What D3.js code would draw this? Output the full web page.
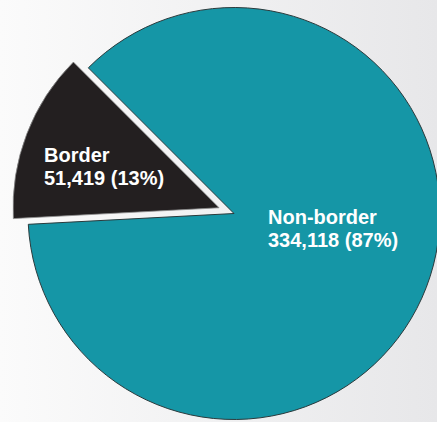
<!DOCTYPE html>
<html>
<head>
<meta charset="utf-8">
<script src="https://cdn.jsdelivr.net/npm/d3@7"></script>
<style>
  html, body { margin: 0; padding: 0; overflow: hidden; }
  svg { display: block; }
</style>
</head>
<body>
<svg id="chart" width="437" height="422"></svg>
<script>
const categories = ["Border", "Non-border"];
const values = [51419, 334118];
const percents = ["13%", "87%"];
const colors = ["#231f20", "#1596a6"];

const W = 437, H = 422;
const cx = 234, cy = 213.5, R = 206;
const explode = [16, 0];

const svg = d3.select("#chart");
const defs = svg.append("defs");
const grad = defs.append("linearGradient").attr("id", "bg").attr("x1", "0").attr("x2", "1").attr("y1", "0").attr("y2", "0");
grad.append("stop").attr("offset", "0").attr("stop-color", "#fbfbfb");
grad.append("stop").attr("offset", "1").attr("stop-color", "#e7e7e9");
svg.append("rect").attr("width", W).attr("height", H).attr("fill", "url(#bg)");

const total = d3.sum(values);
const start = -45 * Math.PI / 180 - (values[0] / total) * 2 * Math.PI;
const pie = d3.pie().sort(null).value(d => d.v)
  .startAngle(start)
  .endAngle(start + 2 * Math.PI);
const data = categories.map((c, i) => ({ c, v: values[i], p: percents[i], i }));
const arcs = pie(data);
const arc = d3.arc().innerRadius(0).outerRadius(R);

const g = svg.append("g").attr("transform", `translate(${cx},${cy})`);

const order = [1, 0];
order.forEach(k => {
  const a = arcs[k];
  const mid = (a.startAngle + a.endAngle) / 2;
  const dx = explode[k] * Math.sin(mid), dy = -explode[k] * Math.cos(mid);
  g.append("path")
    .attr("d", arc(a))
    .attr("transform", `translate(${dx},${dy})`)
    .attr("fill", colors[k])
    .attr("stroke", k === 1 ? "#2a3a3c" : "#8a8a8a")
    .attr("stroke-width", k === 1 ? 1 : 0.8)
    .attr("stroke-linejoin", "miter");
});

const labelPos = [[44, 162], [268, 224]];
const lineGap = 23;
data.forEach((d, k) => {
  const t = svg.append("text")
    .attr("x", labelPos[k][0]).attr("y", labelPos[k][1])
    .attr("fill", "#ffffff")
    .attr("font-family", "'Liberation Sans', Arial, sans-serif")
    .attr("font-weight", "bold")
    .attr("font-size", 20);
  t.append("tspan").attr("x", labelPos[k][0]).text(d.c);
  t.append("tspan").attr("x", labelPos[k][0]).attr("dy", lineGap)
    .text(d3.format(",")(d.v) + " (" + d.p + ")");
});
</script>
</body>
</html>
